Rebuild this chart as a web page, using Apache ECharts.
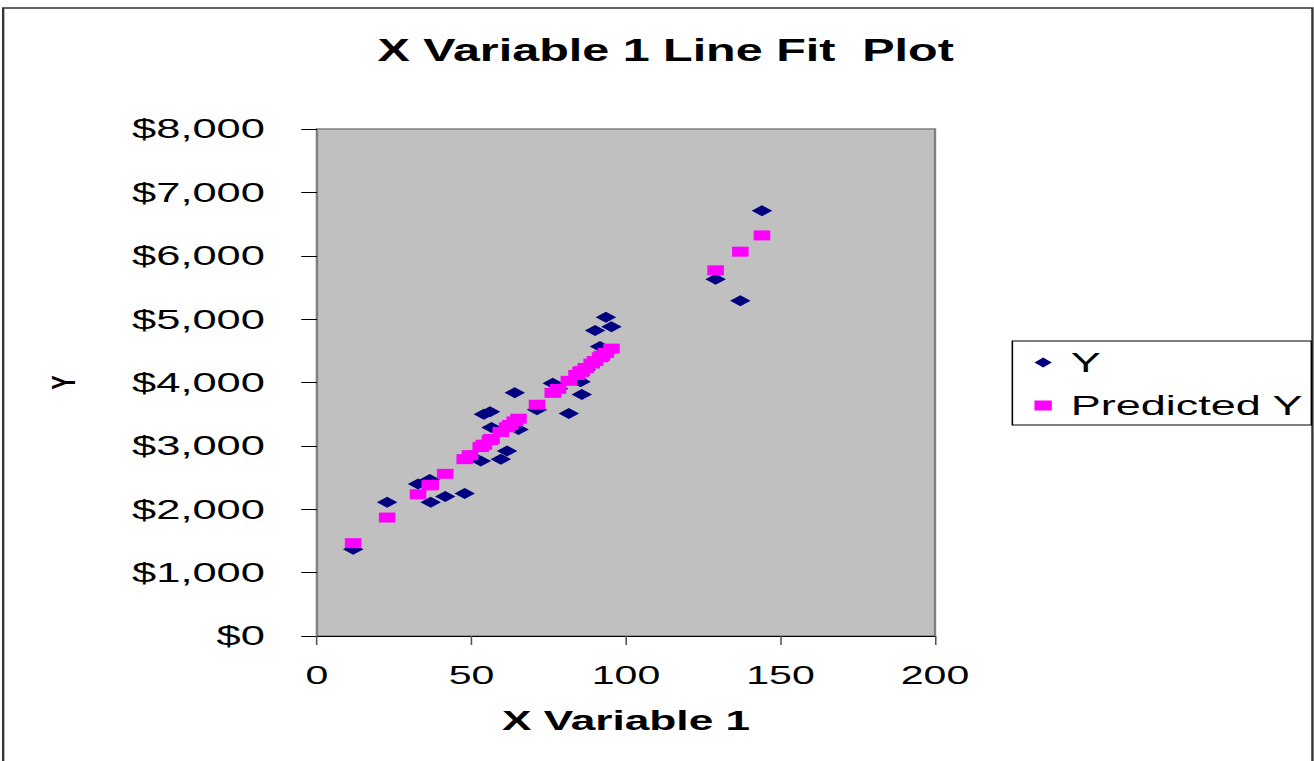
<!DOCTYPE html>
<html>
<head>
<meta charset="utf-8">
<script src="https://cdn.jsdelivr.net/npm/echarts@6/dist/echarts.min.js"></script>
<style>
html,body{margin:0;padding:0;background:#fff;}
#wrap{width:1314px;height:761px;overflow:hidden;position:relative;background:#fff;}
#chart{width:832px;height:761px;transform-origin:0 0;}
</style>
</head>
<body>
<div id="wrap"><div id="chart"></div></div>
<script>
// ---- data ----
const xValues = [11.7, 22.7, 32.7, 36.5, 36.8, 41.5, 47.8, 49.5, 53, 54, 56, 56.5, 59.5, 61.5, 62.5, 64, 65.2, 71.2, 76.3, 78, 81.5, 84, 85.3, 85.7, 87, 88.9, 90, 91.6, 92.2, 93.5, 95.3, 129, 137, 144];
const yActual = [1370, 2110, 2400, 2470, 2110, 2200, 2250, 2850, 2760, 3500, 3540, 3290, 2790, 2920, 3350, 3840, 3260, 3570, 3990, 3900, 3510, 4050, 4010, 3810, 4200, 4290, 4820, 4570, 4400, 5030, 4880, 5630, 5290, 6710];
const yPredicted = [1465, 1869, 2236, 2376, 2387, 2559, 2790, 2853, 2981, 3018, 3091, 3110, 3220, 3293, 3330, 3385, 3429, 3649, 3836, 3899, 4027, 4119, 4167, 4181, 4229, 4299, 4339, 4398, 4420, 4467, 4534, 5770, 6064, 6321];
const seriesNames = ['Y', 'Predicted Y'];
const titleText = 'X Variable 1 Line Fit  Plot';
const xAxisName = 'X Variable 1';
const yAxisName = 'Y';

// horizontal stretch of the reference rendering
const S = 1314 / 832;
const chartEl = document.getElementById('chart');
chartEl.style.transform = 'scaleX(' + S + ')';

const FONT = '"Liberation Sans", Arial, sans-serif';
const pairs = (xs, ys) => xs.map((x, i) => [x, ys[i]]);

const chart = echarts.init(chartEl, null, { renderer: 'svg' });
chart.setOption({
  animation: false,
  backgroundColor: '#ffffff',
  graphic: [{
    type: 'rect', silent: true, z: -10,
    shape: { x: 2, y: 8, width: 829, height: 800 },
    style: { fill: 'none', stroke: '#333333', lineWidth: 1.5 }
  }],
  title: {
    text: titleText,
    left: 234, top: 30,
    padding: 5,
    textStyle: { fontFamily: FONT, fontSize: 30.7, fontWeight: 'bold', color: '#000' }
  },
  legend: {
    orient: 'vertical',
    left: 641, top: 341,
    padding: [7, 5, 5, 14],
    itemGap: 14,
    itemWidth: 11, itemHeight: 10,
    borderColor: '#000', borderWidth: 1, borderRadius: 0,
    backgroundColor: '#fff',
    textStyle: { fontFamily: FONT, fontSize: 28.5, color: '#000', padding: [0, 0, 0, 7] },
    data: [{ name: seriesNames[0], icon: 'diamond' }, { name: seriesNames[1], icon: 'rect' }]
  },
  grid: {
    left: 317 / S, top: 129, width: (935 - 317) / S, height: 507,
    show: true, backgroundColor: '#C0C0C0', borderColor: '#808080', borderWidth: 1.5,
    containLabel: false
  },
  xAxis: {
    type: 'value', min: 0, max: 200, interval: 50,
    name: xAxisName, nameLocation: 'middle', nameGap: 70,
    nameTextStyle: { fontFamily: FONT, fontSize: 28, fontWeight: 'bold', color: '#000' },
    axisLine: { show: true, onZero: false, lineStyle: { color: '#000', width: 1 } },
    axisTick: { show: true, inside: false, length: 9, lineStyle: { color: '#555', width: 1 } },
    axisLabel: { fontFamily: FONT, fontSize: 26, color: '#000', margin: 26 },
    splitLine: { show: false }
  },
  yAxis: {
    type: 'value', min: 0, max: 8000, interval: 1000,
    name: yAxisName, nameLocation: 'middle', nameGap: 150, nameRotate: 90,
    nameTextStyle: { fontFamily: FONT, fontSize: 21, fontWeight: 'bold', color: '#000' },
    axisLine: { show: true, lineStyle: { color: '#808080', width: 1 } },
    axisTick: { show: true, inside: false, length: 10, lineStyle: { color: '#000', width: 1 } },
    axisLabel: {
      fontFamily: FONT, fontSize: 27.5, color: '#000', margin: 33,
      formatter: v => '$' + v.toLocaleString('en-US')
    },
    splitLine: { show: false }
  },
  series: [
    {
      name: seriesNames[0], type: 'scatter',
      symbol: 'diamond', symbolSize: [13, 11],
      itemStyle: { color: '#000080', opacity: 1 },
      data: pairs(xValues, yActual), z: 2
    },
    {
      name: seriesNames[1], type: 'scatter',
      symbol: 'rect', symbolSize: [10.5, 10],
      itemStyle: { color: '#FF00FF', opacity: 1 },
      data: pairs(xValues, yPredicted), z: 3
    }
  ]
});
</script>
</body>
</html>
